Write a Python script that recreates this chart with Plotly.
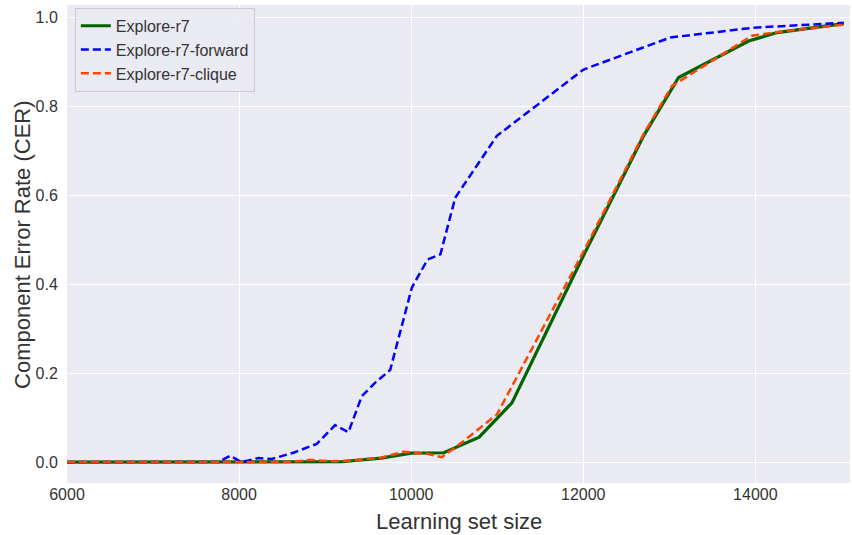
import plotly.graph_objects as go

# Explore-r7
x_r7 = [6000, 7000, 8000, 8500, 9200, 9650, 10000, 10380, 10790, 11171, 12000, 12701, 13108, 13922, 14252, 15027]
cer_r7 = [0.0, 0.0, 0.0, 0.0, 0.001, 0.009, 0.020, 0.021, 0.056, 0.133, 0.463, 0.733, 0.864, 0.946, 0.965, 0.985]

# Explore-r7-forward
x_fwd = [6000, 7000, 7760, 7895, 8030, 8224, 8380, 8632, 8903, 9116, 9271, 9426, 9580, 9756, 9880,
         10008, 10190, 10340, 10512, 10996, 12003, 13012, 13980, 15027]
cer_fwd = [0.0, 0.0, 0.0, 0.014, 0.0, 0.009, 0.007, 0.021, 0.041, 0.083, 0.067, 0.148, 0.178, 0.207, 0.300,
           0.392, 0.455, 0.467, 0.594, 0.733, 0.882, 0.954, 0.976, 0.987]

# Explore-r7-clique
x_clq = [6000, 7000, 8000, 8600, 8826, 9050, 9300, 9650, 9910, 10182, 10357, 10607, 10997, 12000, 12701,
         13031, 13960, 14250, 15027]
cer_clq = [0.0, 0.0, 0.0, 0.0, 0.005, 0.002, 0.003, 0.010, 0.023, 0.019, 0.011, 0.047, 0.107, 0.472, 0.737,
           0.845, 0.958, 0.966, 0.983]

x_ticks = [6000, 8000, 10000, 12000, 14000]
y_ticks = [0.0, 0.2, 0.4, 0.6, 0.8, 1.0]

fig = go.Figure()
fig.add_trace(go.Scatter(x=x_r7, y=cer_r7, mode="lines", name="Explore-r7",
                         line=dict(color="#006400", width=3.2)))
fig.add_trace(go.Scatter(x=x_fwd, y=cer_fwd, mode="lines", name="Explore-r7-forward",
                         line=dict(color="#0000FF", width=2.5, dash="8px,4px")))
fig.add_trace(go.Scatter(x=x_clq, y=cer_clq, mode="lines", name="Explore-r7-clique",
                         line=dict(color="#FF4500", width=2.5, dash="8px,4px")))

font_family = "Liberation Sans, Arial, sans-serif"
text_color = "#333333"
fig.update_layout(
    width=852, height=535,
    margin=dict(l=67, r=2, t=5, b=52, autoexpand=False),
    paper_bgcolor="white",
    plot_bgcolor="#EAEAF2",
    font=dict(family=font_family, color=text_color, size=16),
    showlegend=True,
    legend=dict(x=0.01, y=0.994, xanchor="left", yanchor="top",
                bgcolor="rgba(234,234,242,0.85)", bordercolor="#CCCCCC", borderwidth=1,
                font=dict(size=16, color=text_color)),
    xaxis=dict(range=[6000, 15100], tickvals=x_ticks, ticktext=[str(v) for v in x_ticks],
               showgrid=True, gridcolor="white", gridwidth=1, zeroline=False, showline=False,
               ticks="", automargin=False,
               tickfont=dict(size=16, color=text_color)),
    yaxis=dict(range=[-0.047, 1.027], tickvals=y_ticks, ticktext=[f"{v:.1f}" for v in y_ticks],
               showgrid=True, gridcolor="white", gridwidth=1, zeroline=False, showline=False,
               ticks="outside", ticklen=5, tickcolor="rgba(0,0,0,0)", automargin=False,
               tickfont=dict(size=16, color=text_color)),
    annotations=[
        dict(text="Learning set size", xref="paper", yref="paper", x=0.5, y=-0.08,
             xanchor="center", yanchor="middle", showarrow=False,
             font=dict(size=22, color=text_color)),
        dict(text="Component Error Rate (CER)", xref="paper", yref="paper", x=-0.0575, y=0.5,
             xanchor="center", yanchor="middle", textangle=-90, showarrow=False,
             font=dict(size=22, color=text_color)),
    ],
)

fig.write_html("out.html", config={"displayModeBar": False},
               post_script="document.body.style.margin='0';")
